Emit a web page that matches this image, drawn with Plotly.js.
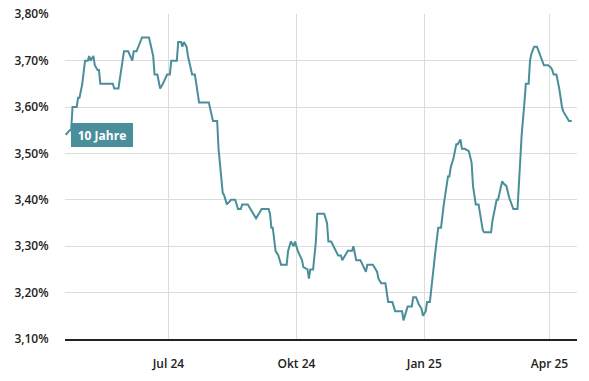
<!DOCTYPE html>
<html>
<head>
<meta charset="utf-8">
<script src="https://cdn.plot.ly/plotly-3.0.1.min.js"></script>
<style>html,body{margin:0;padding:0;background:#fff;}#chart{width:589px;height:381px;}</style>
</head>
<body>
<div id="chart"></div>
<script>
const seriesName = '10 Jahre';

const dates = [
  '2024-04-18','2024-04-21','2024-04-22','2024-04-23','2024-04-26','2024-04-27','2024-04-28','2024-04-30',
  '2024-05-02','2024-05-04','2024-05-05','2024-05-06','2024-05-08','2024-05-09','2024-05-11','2024-05-12','2024-05-13','2024-05-22','2024-05-23','2024-05-26','2024-05-28','2024-05-30',
  '2024-06-02','2024-06-05','2024-06-06','2024-06-08','2024-06-12','2024-06-17','2024-06-20','2024-06-21','2024-06-23','2024-06-25','2024-06-27','2024-06-30',
  '2024-07-02','2024-07-03','2024-07-07','2024-07-08','2024-07-10','2024-07-11','2024-07-12','2024-07-14','2024-07-15','2024-07-17','2024-07-18','2024-07-20','2024-07-22','2024-07-23','2024-07-30',
  '2024-08-02','2024-08-05','2024-08-06','2024-08-09','2024-08-10','2024-08-12','2024-08-15','2024-08-18','2024-08-20','2024-08-22','2024-08-23','2024-08-27','2024-08-29','2024-08-31',
  '2024-09-02','2024-09-04','2024-09-06','2024-09-11','2024-09-12','2024-09-13','2024-09-14','2024-09-16','2024-09-18','2024-09-20','2024-09-24','2024-09-25','2024-09-27','2024-09-29','2024-09-30',
  '2024-10-02','2024-10-04','2024-10-05','2024-10-06','2024-10-09','2024-10-10','2024-10-11','2024-10-13','2024-10-15','2024-10-16','2024-10-21','2024-10-23','2024-10-24','2024-10-26','2024-10-29','2024-10-31',
  '2024-11-02','2024-11-03','2024-11-05','2024-11-07','2024-11-10','2024-11-11','2024-11-13','2024-11-16','2024-11-20','2024-11-21','2024-11-25','2024-11-28','2024-11-29','2024-12-01',
  '2024-12-04','2024-12-06','2024-12-09','2024-12-11','2024-12-16','2024-12-17','2024-12-19','2024-12-20','2024-12-23','2024-12-24','2024-12-26','2024-12-28','2024-12-30','2024-12-31','2025-01-02',
  '2025-01-03','2025-01-05','2025-01-07','2025-01-09','2025-01-11','2025-01-13','2025-01-15','2025-01-18','2025-01-19','2025-01-20','2025-01-22','2025-01-24','2025-01-25','2025-01-27','2025-01-28','2025-01-30','2025-02-02',
  '2025-02-04','2025-02-05','2025-02-07','2025-02-09','2025-02-10','2025-02-12','2025-02-13','2025-02-18','2025-02-19','2025-02-22','2025-02-23','2025-02-24','2025-02-26','2025-02-27','2025-03-01',
  '2025-03-03','2025-03-05','2025-03-06','2025-03-09','2025-03-10','2025-03-12','2025-03-14','2025-03-15','2025-03-17','2025-03-18','2025-03-19','2025-03-21','2025-03-23','2025-03-25','2025-03-27','2025-03-28','2025-03-31','2025-04-02',
  '2025-04-03','2025-04-04','2025-04-06','2025-04-08','2025-04-10','2025-04-11','2025-04-13','2025-04-15','2025-04-17'
];

const yields = [
  3.54,3.55,3.55,3.60,3.60,3.62,3.62,3.65,
  3.70,3.70,3.71,3.70,3.71,3.69,3.68,3.68,3.65,3.65,3.64,3.64,3.68,3.72,
  3.72,3.70,3.72,3.72,3.75,3.75,3.71,3.67,3.67,3.64,3.65,3.67,
  3.67,3.70,3.70,3.74,3.74,3.73,3.74,3.73,3.71,3.685,3.67,3.67,3.63,3.61,3.61,
  3.57,3.57,3.51,3.415,3.41,3.39,3.40,3.40,3.38,3.38,3.39,3.39,3.38,3.37,
  3.36,3.37,3.38,3.38,3.37,3.34,3.34,3.29,3.28,3.26,3.26,3.29,3.31,3.30,3.31,
  3.29,3.275,3.27,3.255,3.25,3.23,3.25,3.25,3.31,3.37,3.37,3.35,3.31,3.31,3.29,3.28,
  3.28,3.27,3.28,3.29,3.29,3.30,3.27,3.27,3.245,3.26,3.26,3.245,3.23,3.22,
  3.22,3.18,3.18,3.16,3.16,3.14,3.16,3.17,3.17,3.19,3.19,3.175,3.165,3.15,3.16,
  3.18,3.18,3.24,3.29,3.34,3.34,3.39,3.45,3.45,3.47,3.49,3.52,3.52,3.53,3.51,3.51,3.505,
  3.48,3.43,3.39,3.39,3.37,3.335,3.33,3.33,3.355,3.40,3.40,3.415,3.44,3.435,3.43,
  3.405,3.39,3.38,3.38,3.445,3.54,3.61,3.65,3.65,3.70,3.715,3.73,3.73,3.715,3.70,3.69,3.69,3.685,
  3.68,3.67,3.67,3.64,3.60,3.59,3.58,3.57,3.57
];

const xTickVals = ['2024-07-01','2024-10-01','2025-01-01','2025-04-01'];
const xTickText = ['Jul 24','Okt 24','Jan 25','Apr 25'];
const yTickVals = [3.1,3.2,3.3,3.4,3.5,3.6,3.7,3.8];
const yTickText = ['3,10%','3,20%','3,30%','3,40%','3,50%','3,60%','3,70%','3,80%'];

const lineColor = '#4a8e9b';
const font = 'Open Sans, Lato, sans-serif';
const tickFont = {family: font, size: 12, color: '#222', weight: 600};

const trace = {
  x: dates, y: yields, type: 'scatter', mode: 'lines', name: seriesName,
  line: {color: lineColor, width: 2}, hoverinfo: 'skip'
};

const layout = {
  width: 589, height: 381,
  margin: {l: 65, r: 12, t: 14, b: 42, pad: 0},
  paper_bgcolor: '#fff', plot_bgcolor: '#fff',
  showlegend: false,
  font: {family: font, size: 12, color: '#222'},
  xaxis: {
    type: 'date',
    range: ['2024-04-17 14:00', '2025-04-20 19:00'],
    tickmode: 'array', tickvals: xTickVals, ticktext: xTickText,
    showgrid: true, gridcolor: '#dcdcdc', gridwidth: 1,
    showline: true, linecolor: '#222', linewidth: 1.5,
    ticks: 'outside', ticklen: 13, tickcolor: 'rgba(0,0,0,0)',
    zeroline: false, fixedrange: true,
    tickfont: tickFont
  },
  yaxis: {
    range: [3.1, 3.8005],
    tickmode: 'array', tickvals: yTickVals, ticktext: yTickText,
    showgrid: true, gridcolor: '#dcdcdc', gridwidth: 1,
    showline: false, zeroline: false,
    ticks: 'outside', ticklen: 13, tickcolor: 'rgba(0,0,0,0)',
    fixedrange: true,
    tickfont: tickFont
  },
  annotations: [{
    text: '<b>' + seriesName + '</b>',
    xref: 'paper', yref: 'paper',
    x: 0.0117, y: 0.6646, xanchor: 'left', yanchor: 'top',
    showarrow: false, bgcolor: lineColor, borderpad: 0, borderwidth: 0,
    width: 62, height: 24, align: 'center', valign: 'middle',
    font: {family: font, size: 12, color: '#fff'}
  }]
};

Plotly.newPlot('chart', [trace], layout, {displayModeBar: false, staticPlot: true});
</script>
</body>
</html>
